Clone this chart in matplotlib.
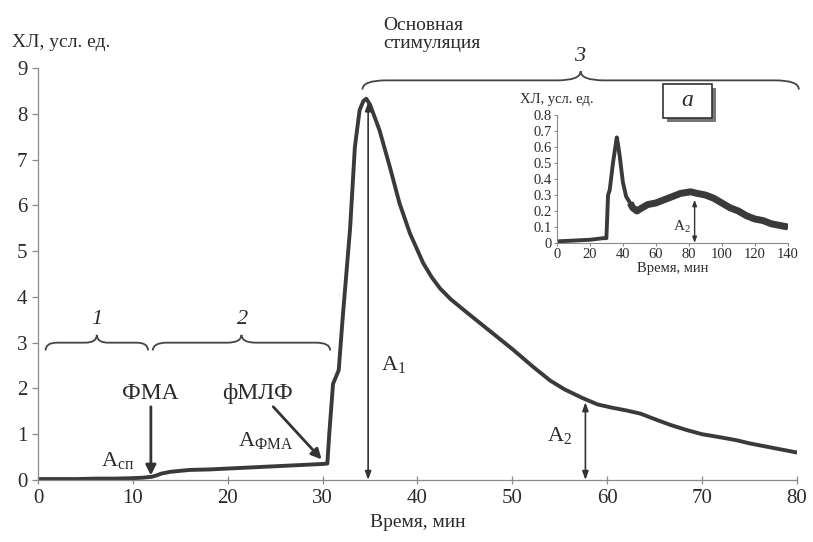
import matplotlib
matplotlib.use("Agg")
import matplotlib.pyplot as plt
from matplotlib.path import Path
from matplotlib.patches import PathPatch, Rectangle

plt.rcParams['font.family'] = ['Liberation Serif', 'DejaVu Serif']

# ---- main curve (time, min ; chemiluminescence, a.u.) ----
t_main = [0, 2, 4, 6, 8, 10, 11, 12, 12.5, 13, 14, 15, 16, 18, 20, 22, 24, 26, 28, 30,
          30.5, 30.7, 31.1, 31.7, 32.1, 32.9, 33.4, 33.9, 34.3, 34.6, 35.0, 36.0, 37.1,
          38.1, 39.2, 40.6, 41.5, 42.4, 43.5, 45.2, 47.6, 50.0, 52.2, 54.0, 55.5,
          57.4, 59.0, 60.5, 62.0, 63.5, 65.0, 66.7, 68.4, 70.0, 72.0, 73.6, 75.0, 77.0,
          78.5, 80.0]
y_main = [0.02, 0.02, 0.02, 0.03, 0.03, 0.04, 0.05, 0.07, 0.10, 0.14, 0.18, 0.20, 0.22,
          0.23, 0.25, 0.27, 0.29, 0.31, 0.33, 0.35,
          0.36, 1.0, 2.1, 2.4, 3.5, 5.5, 7.27, 8.08, 8.28, 8.33, 8.2, 7.64, 6.83,
          6.05, 5.39, 4.74, 4.43, 4.18, 3.95, 3.66, 3.26, 2.86, 2.47, 2.17, 1.98,
          1.79, 1.65, 1.58, 1.52, 1.45, 1.33, 1.2, 1.09, 1.0, 0.93, 0.87, 0.8, 0.72,
          0.66, 0.6]

# ---- inset curve ----
t_ins = [0, 10, 20, 28, 30, 30.5, 31, 32, 34, 36.3, 37, 38, 40, 42, 44.4, 46, 48.5, 50, 55,
         60, 65, 70, 75, 81, 85, 90, 95, 100, 105, 110, 115, 120, 125, 130, 135, 140]
y_ins = [0.01, 0.015, 0.02, 0.03, 0.03, 0.16, 0.3, 0.33, 0.5, 0.66, 0.62, 0.55, 0.38, 0.29,
         0.25, 0.22, 0.2, 0.21, 0.24, 0.25, 0.27, 0.29, 0.31, 0.32, 0.31, 0.3, 0.28, 0.25,
         0.22, 0.2, 0.17, 0.15, 0.14, 0.12, 0.11, 0.1]

x_ticks_main = [0, 10, 20, 30, 40, 50, 60, 70, 80]
y_ticks_main = [0, 1, 2, 3, 4, 5, 6, 7, 8, 9]
x_ticks_ins = [0, 20, 40, 60, 80, 100, 120, 140]
y_ticks_ins = [0, 0.1, 0.2, 0.3, 0.4, 0.5, 0.6, 0.7, 0.8]
y_ticklabels_ins = ["0", "0.1", "0.2", "0.3", "0.4", "0.5", "0.6", "0.7", "0.8"]

TXT = '#2b2b2b'
CURVE = '#3a3a3a'
SPINE = '#8a8a8a'

fig = plt.figure(figsize=(8.13, 5.42), dpi=100)
ax = fig.add_axes([0.0467, 0.1144, 0.9336, 0.7601])
ax.plot(t_main, y_main, color=CURVE, lw=2.8, solid_joinstyle='round')
ax.set_xlim(0, 80)
ax.set_ylim(0, 9)
ax.set_xticks(x_ticks_main)
ax.set_yticks(y_ticks_main)
for s in ['top', 'right']:
    ax.spines[s].set_visible(False)
for s in ['left', 'bottom']:
    ax.spines[s].set_color(SPINE)
    ax.spines[s].set_linewidth(0.9)
ax.tick_params(axis='both', colors=SPINE, labelcolor=TXT, labelsize=15, length=4, width=0.9)
ax.tick_params(axis='x', direction='inout', length=6)
ax.set_xlabel('Время, мин', fontsize=14, color=TXT, labelpad=4)
fig.text(0.015, 0.905, 'ХЛ, усл. ед.', fontsize=14, color=TXT, ha='left', va='bottom')


def brace(axis, x0, x1, y, h, r, lw=1.3):
    xm = (x0 + x1) / 2.0
    verts = [(x0, y - h), (x0, y), (x0 + r, y),
             (xm - r, y), (xm, y), (xm, y + h),
             (xm, y), (xm + r, y),
             (x1 - r, y), (x1, y), (x1, y - h)]
    codes = [Path.MOVETO, Path.CURVE3, Path.CURVE3,
             Path.LINETO, Path.CURVE3, Path.CURVE3,
             Path.CURVE3, Path.CURVE3,
             Path.LINETO, Path.CURVE3, Path.CURVE3]
    p = PathPatch(Path(verts, codes), fill=False, color='#444444', lw=lw, clip_on=False)
    axis.add_patch(p)


brace(ax, 0.8, 11.6, 3.0, 0.17, 1.2)
brace(ax, 12.1, 30.8, 3.0, 0.17, 1.5)
brace(ax, 34.2, 80.2, 8.73, 0.2, 2.5)
ax.text(6.2, 3.3, '1', fontsize=16, style='italic', color=TXT, ha='center', va='bottom')
ax.text(21.6, 3.3, '2', fontsize=16, style='italic', color=TXT, ha='center', va='bottom')
ax.text(57.1, 9.05, '3', fontsize=16, style='italic', color=TXT, ha='center', va='bottom',
        clip_on=False)
fig.text(383 / 813, 1 - 52 / 542, 'Основная\nстимуляция', fontsize=14, color=TXT,
         ha='left', va='bottom', linespacing=1.1)

# annotations
arr = dict(arrowstyle='-|>,head_length=0.6,head_width=0.3', color='#333333', lw=2.0,
           shrinkA=0, shrinkB=0)
ax.annotate('', xy=(11.9, 0.1), xytext=(11.9, 1.6), arrowprops=arr)
ax.annotate('', xy=(29.9, 0.45), xytext=(24.8, 1.6), arrowprops=arr)
ax.text(11.8, 1.9, 'ФМА', fontsize=17, color=TXT, ha='center', va='center')
ax.text(23.1, 1.9, 'фМЛФ', fontsize=17, color=TXT, ha='center', va='center')
ax.text(8.4, 0.42, r'А$_{\mathregular{сп}}$', fontsize=16, color=TXT, ha='center', va='center')
ax.text(24.0, 0.85, r'А$_{\mathregular{ФМА}}$', fontsize=16, color=TXT, ha='center', va='center')

darr = dict(arrowstyle='<|-|>,head_length=0.5,head_width=0.18', color='#333333', lw=1.2,
            shrinkA=0, shrinkB=0)
ax.annotate('', xy=(34.8, 0.0), xytext=(34.8, 8.25), arrowprops=darr)
ax.annotate('', xy=(57.7, 0.0), xytext=(57.7, 1.7), arrowprops=darr)
ax.text(37.5, 2.5, r'А$_{\mathregular{1}}$', fontsize=16, color=TXT, ha='center', va='center')
ax.text(55.0, 0.95, r'А$_{\mathregular{2}}$', fontsize=16, color=TXT, ha='center', va='center')

# ---- inset ----
axi = fig.add_axes([0.685, 0.5517, 0.284, 0.2361])
axi.plot(t_ins, y_ins, color=CURVE, lw=2.8, solid_joinstyle='round')
k = t_ins.index(44.4)
axi.plot(t_ins[k:], y_ins[k:], color=CURVE, lw=5.0, solid_joinstyle='round',
         solid_capstyle='butt')
axi.set_xlim(0, 140)
axi.set_ylim(0, 0.8)
axi.set_xticks(x_ticks_ins)
axi.set_yticks(y_ticks_ins)
axi.set_yticklabels(y_ticklabels_ins)
for s in ['top', 'right']:
    axi.spines[s].set_visible(False)
for s in ['left', 'bottom']:
    axi.spines[s].set_color(SPINE)
    axi.spines[s].set_linewidth(0.8)
axi.tick_params(axis='both', colors=SPINE, labelcolor=TXT, labelsize=10.5, length=2.5,
                width=0.8, pad=1)
axi.set_xlabel('Время, мин', fontsize=10.5, color=TXT, labelpad=1)
fig.text(520 / 813, 1 - 106 / 542, 'ХЛ, усл. ед.', fontsize=10.5, color=TXT,
         ha='left', va='bottom')
darr2 = dict(arrowstyle='<|-|>,head_length=0.35,head_width=0.13', color='#333333', lw=1.0,
             shrinkA=0, shrinkB=0)
axi.annotate('', xy=(83.5, 0.0), xytext=(83.5, 0.27), arrowprops=darr2)
axi.text(76, 0.1, r'А$_{\mathregular{2}}$', fontsize=11, color=TXT, ha='center', va='center')

# label box "a"
fig.patches.append(Rectangle((667 / 813, 1 - 122 / 542), 49 / 813, 34 / 542,
                             transform=fig.transFigure, facecolor='#777777',
                             edgecolor='none', zorder=5))
fig.patches.append(Rectangle((663 / 813, 1 - 118 / 542), 49 / 813, 34 / 542,
                             transform=fig.transFigure, facecolor='white',
                             edgecolor='#333333', lw=1.2, zorder=6))
fig.text(687.5 / 813, 1 - 101 / 542, 'a', fontsize=17, style='italic', color=TXT,
         ha='center', va='center', zorder=7)

fig.savefig('out.png', dpi=100)
